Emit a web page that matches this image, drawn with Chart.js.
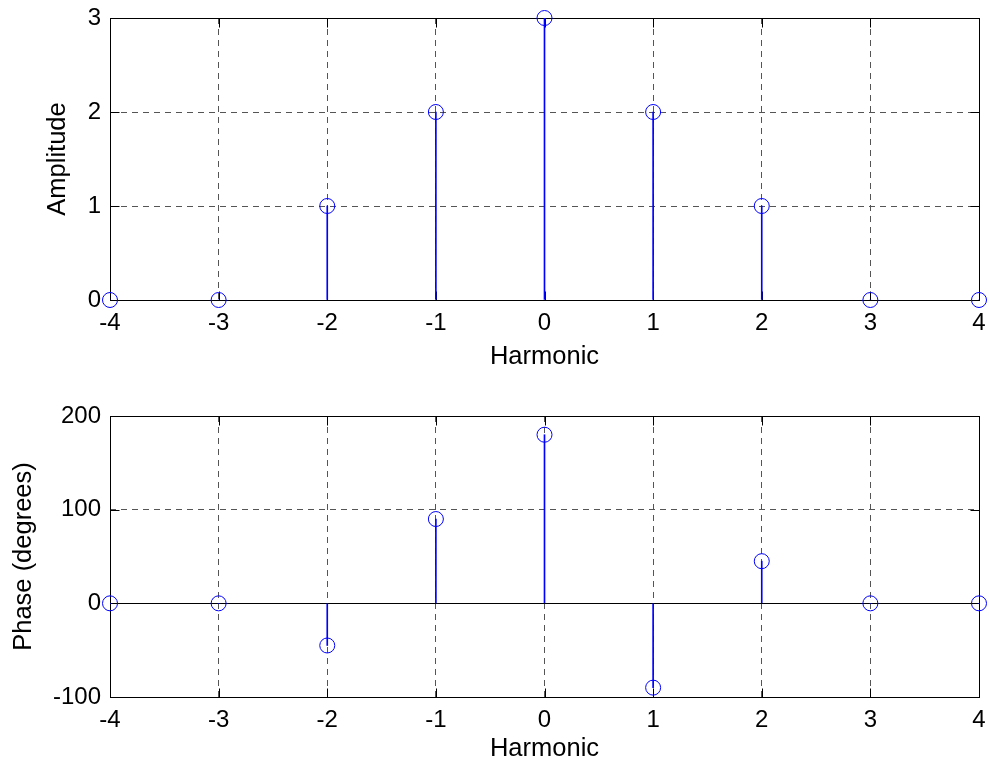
<!DOCTYPE html>
<html>
<head>
<meta charset="utf-8">
<script src="https://cdn.jsdelivr.net/npm/chart.js@4.4.1/dist/chart.umd.min.js"></script>
<style>
  body { margin: 0; background: #fff; }
  .panel { position: absolute; left: 0; width: 989px; }
</style>
</head>
<body>
<div class="panel" style="top:0;height:380px"><canvas id="amp" width="989" height="380"></canvas></div>
<div class="panel" style="top:380px;height:387px"><canvas id="phase" width="989" height="387"></canvas></div>
<script>
// Datos
const harmonics = [-4, -3, -2, -1, 0, 1, 2, 3, 4];
const amplitude = [0, 0, 1, 2, 3, 2, 1, 0, 0];
const phaseDeg = [0, 0, -45, 90, 180, -90, 45, 0, 0];
const xTicks = [-4, -3, -2, -1, 0, 1, 2, 3, 4];
const ampTicks = [0, 1, 2, 3];
const phaseTicks = [-100, 0, 100, 200];

const BLUE = '#0000ff';
const FAMILY = "'Liberation Sans', Arial, Helvetica, sans-serif";
const FONT = { family: FAMILY, size: 24 };
const TITLE_FONT = { family: FAMILY, size: 25.5 };

// Marco negro, marcas hacia adentro y linea base del stem
const framePlugin = {
    id: 'frame',
    beforeDatasetsDraw(chart) {
        const { ctx, chartArea: a, scales } = chart;
        const L = Math.round(a.left) + 0.5, R = Math.round(a.right) + 0.5;
        const T = Math.round(a.top) + 0.5, B = Math.round(a.bottom) + 0.5;
        const tl = 9;
        ctx.save();
        ctx.strokeStyle = '#000';
        ctx.lineWidth = 1;
        ctx.setLineDash([]);
        ctx.beginPath();
        const y0 = Math.round(scales.y.getPixelForValue(0)) + 0.5;
        ctx.moveTo(L, y0);
        ctx.lineTo(R, y0);
        scales.x.ticks.forEach(t => {
            const px = Math.round(scales.x.getPixelForValue(t.value)) + 0.5;
            ctx.moveTo(px, B); ctx.lineTo(px, B - tl);
            ctx.moveTo(px, T); ctx.lineTo(px, T + tl);
        });
        scales.y.ticks.forEach(t => {
            const py = Math.round(scales.y.getPixelForValue(t.value)) + 0.5;
            ctx.moveTo(L, py); ctx.lineTo(L + tl, py);
            ctx.moveTo(R, py); ctx.lineTo(R - tl, py);
        });
        ctx.stroke();
        ctx.strokeRect(L, T, R - L, B - T);
        ctx.restore();
    }
};

function makeStemChart(id, values, yTicks, yTitle, opts) {
    const pts = harmonics.map((h, i) => ({ x: h, y: values[i] }));
    return new Chart(document.getElementById(id), {
        type: 'scatter',
        data: {
            datasets: [
                {
                    type: 'bar',
                    data: pts,
                    backgroundColor: BLUE,
                    barThickness: 1,
                    borderWidth: 0
                },
                {
                    type: 'scatter',
                    data: pts,
                    pointStyle: 'circle',
                    pointRadius: 7.5,
                    pointBorderWidth: 1,
                    pointBorderColor: BLUE,
                    pointBackgroundColor: 'rgba(0,0,0,0)',
                    clip: false
                }
            ]
        },
        options: {
            responsive: false,
            animation: false,
            devicePixelRatio: 1,
            layout: { padding: { top: opts.padTop, right: 10, left: 0, bottom: 0 } },
            plugins: { legend: { display: false }, tooltip: { enabled: false } },
            scales: {
                x: {
                    type: 'linear',
                    offset: false,
                    min: xTicks[0],
                    max: xTicks[xTicks.length - 1],
                    afterBuildTicks: s => { s.ticks = xTicks.map(v => ({ value: v })); },
                    afterFit: s => { s.height = opts.xHeight; },
                    grid: { color: '#555', lineWidth: 1, drawTicks: true, tickLength: 9,
                        tickColor: 'rgba(0,0,0,0)', offset: false },
                    border: { display: false, dash: [6, 5] },
                    ticks: { color: '#000', font: FONT, padding: 0, maxRotation: 0 },
                    title: { display: true, text: 'Harmonic', color: '#000', font: TITLE_FONT,
                        padding: { top: 0, bottom: opts.xTitlePad } }
                },
                y: {
                    min: yTicks[0],
                    max: yTicks[yTicks.length - 1],
                    afterBuildTicks: s => { s.ticks = yTicks.map(v => ({ value: v })); },
                    afterFit: s => { s.width = 110; },
                    grid: { color: '#555', lineWidth: 1, drawTicks: true, tickLength: 9,
                        tickColor: 'rgba(0,0,0,0)' },
                    border: { display: false, dash: [6, 5] },
                    ticks: { color: '#000', font: FONT, padding: 0 },
                    title: { display: true, text: yTitle, color: '#000', font: TITLE_FONT,
                        padding: { top: opts.yTitlePad, bottom: 0 } }
                }
            }
        },
        plugins: [framePlugin]
    });
}

makeStemChart('amp', amplitude, ampTicks, 'Amplitude',
    { padTop: 18, xHeight: 80, xTitlePad: 8, yTitlePad: 43 });
makeStemChart('phase', phaseDeg, phaseTicks, 'Phase (degrees)',
    { padTop: 36, xHeight: 70, xTitlePad: 3, yTitlePad: 9 });
</script>
</body>
</html>
